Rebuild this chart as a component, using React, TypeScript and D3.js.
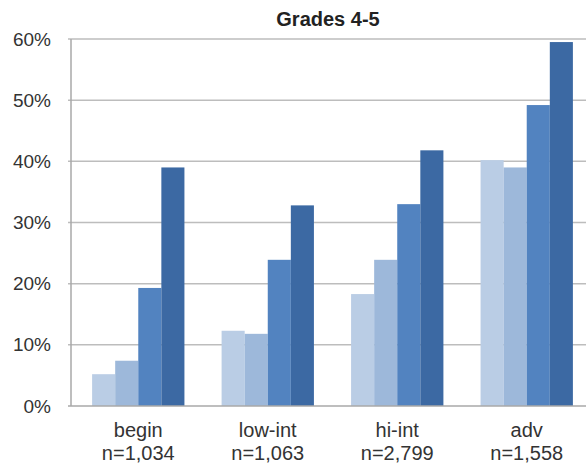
import * as d3 from "d3";

const categories = ["begin", "low-int", "hi-int", "adv"];
const sampleSizes = ["n=1,034", "n=1,063", "n=2,799", "n=1,558"];
const seriesNames = ["s1", "s2", "s3", "s4"];
const s1 = [5.2, 12.3, 18.3, 40.2];
const s2 = [7.4, 11.8, 23.9, 39.0];
const s3 = [19.3, 23.9, 33.0, 49.2];
const s4 = [39.0, 32.8, 41.8, 59.5];
const yTicks = [0, 10, 20, 30, 40, 50, 60];
const colors = ["#bacde5", "#9db8da", "#5283c0", "#3c69a3"];

export default function App() {
  const width = 586;
  const height = 466;
  const margin = { top: 39, right: -8, bottom: 60, left: 71 };
  const series = [s1, s2, s3, s4];

  const x = d3.scaleBand<string>()
    .domain(categories)
    .range([margin.left, width - margin.right])
    .paddingInner(0.287)
    .paddingOuter(0.163);

  const x1 = d3.scaleBand<string>()
    .domain(seriesNames)
    .range([0, x.bandwidth()]);

  const y = d3.scaleLinear()
    .domain([0, 60])
    .range([height - margin.bottom, margin.top]);

  const font = "'Liberation Sans', Arial, sans-serif";

  return (
    <svg width={width} height={height} style={{ position: "absolute", left: 0, top: 0, background: "#fff" }}>
      <text x={328} y={26} textAnchor="middle" fontFamily={font} fontWeight="bold" fontSize={20} fill="#222">
        Grades 4-5
      </text>
      {yTicks.map(t => (
        <g key={t}>
          {t > 0 && (
            <line x1={margin.left - 3} x2={width} y1={y(t)} y2={y(t)} stroke="#bdbdbd" strokeWidth={1.5} />
          )}
          <text x={51} y={y(t)} dy="0.35em" textAnchor="end" fontFamily={font} fontSize={19} fill="#333">
            {t}%
          </text>
        </g>
      ))}
      {categories.map((c, i) => (
        <g key={c} transform={`translate(${x(c)},0)`}>
          {series.map((s, j) => (
            <rect
              key={j}
              x={x1(seriesNames[j])}
              y={y(s[i])}
              width={x1.bandwidth()}
              height={y(0) - y(s[i])}
              fill={colors[j]}
            />
          ))}
          <text x={x.bandwidth() / 2} y={437} textAnchor="middle" fontFamily={font} fontSize={20} fill="#333">
            {c}
          </text>
          <text x={x.bandwidth() / 2} y={460} textAnchor="middle" fontFamily={font} fontSize={20} fill="#333">
            {sampleSizes[i]}
          </text>
        </g>
      ))}
      <line x1={margin.left} x2={margin.left} y1={y(60)} y2={y(0)} stroke="#a8a8a8" strokeWidth={1.5} />
      <line x1={margin.left - 3} x2={width} y1={y(0)} y2={y(0)} stroke="#a8a8a8" strokeWidth={1.5} />
    </svg>
  );
}
